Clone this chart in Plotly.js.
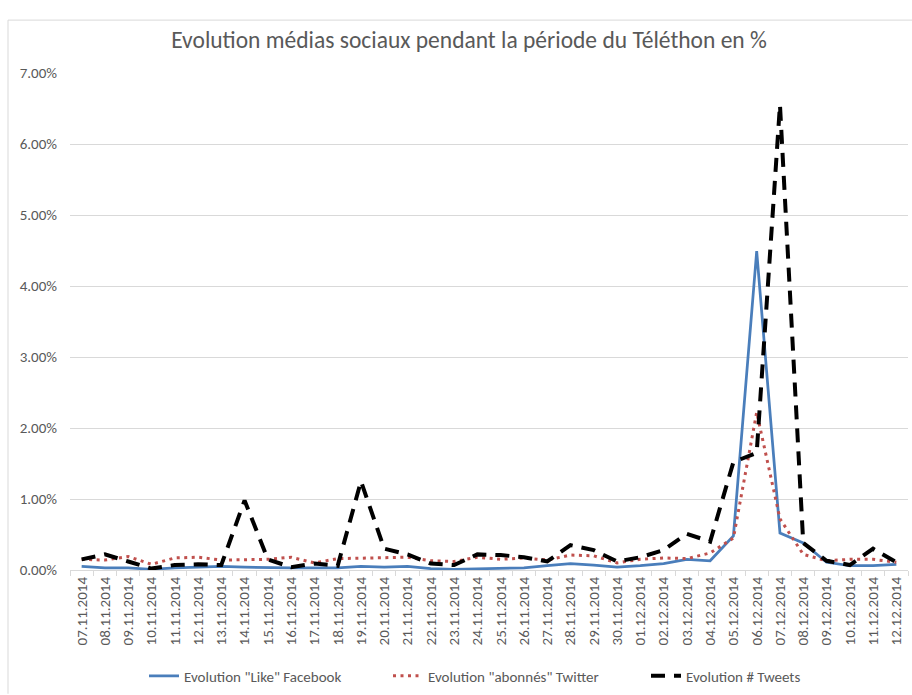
<!DOCTYPE html>
<html>
<head>
<meta charset="utf-8">
<script src="https://cdn.plot.ly/plotly-3.0.1.min.js"></script>
<style>html,body{margin:0;padding:0;background:#fff;}#chart{width:912px;height:695px;}</style>
</head>
<body>
<div id="chart"></div>
<script>
const dates = ["07.11.2014","08.11.2014","09.11.2014","10.11.2014","11.11.2014","12.11.2014","13.11.2014","14.11.2014","15.11.2014","16.11.2014","17.11.2014","18.11.2014","19.11.2014","20.11.2014","21.11.2014","22.11.2014","23.11.2014","24.11.2014","25.11.2014","26.11.2014","27.11.2014","28.11.2014","29.11.2014","30.11.2014","01.12.2014","02.12.2014","03.12.2014","04.12.2014","05.12.2014","06.12.2014","07.12.2014","08.12.2014","09.12.2014","10.12.2014","11.12.2014","12.12.2014"];

const facebookLike = [0.05,0.03,0.03,0.01,0.03,0.04,0.05,0.04,0.03,0.03,0.03,0.03,0.05,0.04,0.05,0.02,0.01,0.02,0.02,0.03,0.06,0.09,0.07,0.04,0.06,0.09,0.15,0.13,0.48,4.49,0.52,0.38,0.11,0.06,0.06,0.08];

const twitterAbonnes = [0.15,0.14,0.19,0.08,0.17,0.18,0.14,0.15,0.15,0.18,0.10,0.16,0.17,0.17,0.18,0.13,0.12,0.18,0.15,0.17,0.14,0.21,0.20,0.10,0.15,0.17,0.16,0.24,0.45,2.22,0.72,0.22,0.13,0.15,0.15,0.11];

const tweets = [0.15,0.22,0.12,0.02,0.07,0.08,0.07,0.98,0.15,0.04,0.09,0.06,1.25,0.30,0.22,0.09,0.07,0.22,0.21,0.18,0.12,0.35,0.28,0.12,0.18,0.28,0.51,0.40,1.52,1.65,6.55,0.38,0.13,0.07,0.30,0.11];

const yTicks = [0,1,2,3,4,5,6,7];

const FONT = "Carlito, Lato, 'Open Sans', sans-serif";
const GREY = "#595959";

const traces = [
  {x: dates, y: facebookLike, type: "scatter", mode: "lines", name: 'Evolution "Like" Facebook',
   line: {color: "#4a7ebb", width: 2.75}, hoverinfo: "skip", legend: "legend"},
  {x: dates, y: twitterAbonnes, type: "scatter", mode: "lines", name: 'Evolution "abonnés" Twitter',
   line: {color: "#c0504d", width: 3, dash: "3px,4.5px"}, hoverinfo: "skip", legend: "legend2"},
  {x: dates, y: tweets, type: "scatter", mode: "lines", name: "Evolution # Tweets",
   line: {color: "#000000", width: 4, dash: "14px,9px"}, hoverinfo: "skip", legend: "legend3"}
];

function legendAt(px) {
  return {orientation: "h", x: (px - 70) / 838, xanchor: "left", y: -0.211, yanchor: "middle",
          font: {family: FONT, size: 15, color: GREY}, bgcolor: "rgba(0,0,0,0)", borderwidth: 0};
}

const layout = {
  width: 912, height: 695,
  margin: {l: 70, r: 4, t: 73, b: 124},
  paper_bgcolor: "#ffffff", plot_bgcolor: "#ffffff",
  font: {family: FONT, color: GREY, size: 15},
  title: {text: "Evolution médias sociaux pendant la période du Téléthon en %",
          font: {family: FONT, size: 23.5, color: GREY},
          x: 469/912, xanchor: "center", y: 1 - 40/695, yanchor: "middle"},
  showlegend: true,
  legend: legendAt(144),
  legend2: legendAt(388),
  legend3: legendAt(646),
  xaxis: {type: "category", range: [-0.5, dates.length - 0.5], tickangle: -90, tickson: "boundaries",
          ticks: "outside", ticklen: 5,
          tickcolor: "#d9d9d9", showline: true, linecolor: "#d9d9d9", linewidth: 1,
          showgrid: false, zeroline: false, tickfont: {family: FONT, size: 15, color: GREY},
          fixedrange: true},
  yaxis: {range: [0, 7], tickvals: yTicks, ticktext: yTicks.map(v => v.toFixed(2) + "%"),
          showgrid: true, gridcolor: "#d9d9d9", gridwidth: 1, zeroline: false, showline: false,
          ticks: "", ticklabelstandoff: 12, tickfont: {family: FONT, size: 15, color: GREY},
          fixedrange: true},
  shapes: [
    {type: "line", xref: "paper", yref: "paper", x0: (8-70)/838, x1: (912-70)/838,
     y0: (571-20)/498, y1: (571-20)/498, line: {color: "#d9d9d9", width: 1}},
    {type: "line", xref: "paper", yref: "paper", x0: (8-70)/838, x1: (8-70)/838,
     y0: (571-20)/498, y1: (571-695)/498, line: {color: "#d9d9d9", width: 1}}
  ]
};

Plotly.newPlot("chart", traces, layout, {displayModeBar: false, staticPlot: true});
</script>
</body>
</html>
